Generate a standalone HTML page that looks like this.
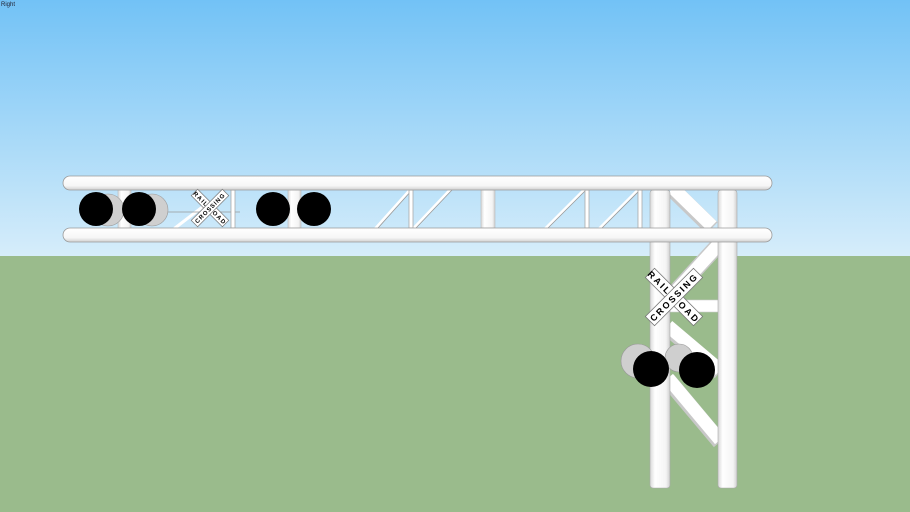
<!DOCTYPE html>
<html><head><meta charset="utf-8"><style>
html,body{margin:0;padding:0;width:910px;height:512px;overflow:hidden}
svg{display:block}
</style></head><body>
<svg width="910" height="512" viewBox="0 0 910 512" xmlns="http://www.w3.org/2000/svg">
<defs>
<linearGradient id="sky" x1="0" y1="0" x2="0" y2="1">
<stop offset="0" stop-color="#72c2f6"/><stop offset="1" stop-color="#d6edfa"/>
</linearGradient>
<linearGradient id="tube" x1="0" y1="0" x2="0" y2="1">
<stop offset="0" stop-color="#ffffff"/><stop offset="0.7" stop-color="#f6f6f6"/><stop offset="1" stop-color="#cfcfcf"/>
</linearGradient>
<linearGradient id="post" x1="0" y1="0" x2="1" y2="0">
<stop offset="0" stop-color="#d8d8d8"/><stop offset="0.25" stop-color="#ffffff"/><stop offset="0.8" stop-color="#f4f4f4"/><stop offset="1" stop-color="#cfcfcf"/>
</linearGradient>
</defs>
<rect width="910" height="256" fill="url(#sky)"/>
<rect y="256" width="910" height="256" fill="#9abb8c"/>
<text x="1" y="6" font-family="Liberation Sans,sans-serif" font-size="6" fill="#223">Right</text>

<g stroke="#fff" stroke-width="3" stroke-linecap="round">
<line x1="376" y1="228" x2="410" y2="190"/>
<line x1="414" y1="228" x2="450" y2="190"/>
<line x1="546" y1="228" x2="584" y2="190"/>
<line x1="600" y1="228" x2="638" y2="190"/>
<line x1="175" y1="228" x2="205" y2="205"/>
</g>
<g stroke="#999" stroke-width="0.8">
<line x1="378" y1="228" x2="412" y2="190"/>
<line x1="416" y1="228" x2="452" y2="190"/>
<line x1="548" y1="228" x2="586" y2="190"/>
<line x1="602" y1="228" x2="640" y2="190"/>
<line x1="150" y1="212" x2="240" y2="212"/>
</g>
<g fill="#fff" stroke="#aaa" stroke-width="0.8">
<rect x="409" y="190" width="4" height="38"/>
<rect x="585" y="190" width="4" height="38"/>
<rect x="638" y="190" width="4" height="38"/>
<rect x="231" y="190" width="4" height="38"/>
</g>
<g fill="url(#post)" stroke="#bbb" stroke-width="0.6">
<rect x="118" y="190" width="13" height="38"/>
<rect x="288" y="190" width="13" height="38"/>
<rect x="481" y="190" width="14" height="38"/>
</g>

<g stroke="#c8c8c8" stroke-width="16" stroke-linecap="butt">
<line x1="673" y1="190" x2="712" y2="228"/>
<line x1="720" y1="243" x2="666" y2="302"/>
<line x1="668" y1="328" x2="720" y2="372"/>
<line x1="668" y1="380" x2="720" y2="442"/>
</g>
<g stroke="#fff" stroke-width="13">
<line x1="673" y1="188" x2="712" y2="226"/>
<line x1="720" y1="243" x2="666" y2="302"/>
<line x1="668" y1="326" x2="720" y2="370"/>
<line x1="668" y1="378" x2="720" y2="440"/>
</g>
<rect x="668" y="300" width="52" height="12" fill="#fff" stroke="#ccc" stroke-width="0.6"/>
<g fill="url(#post)" stroke="#aaa" stroke-width="0.6">
<rect x="650" y="190" width="20" height="298" rx="3"/>
<rect x="718" y="190" width="19" height="298" rx="3"/>
</g>

<g fill="url(#tube)" stroke="#9a9a9a" stroke-width="0.8">
<rect x="63" y="176" width="709" height="14" rx="7"/>
<rect x="63" y="228" width="709" height="14" rx="7"/>
</g>

<g fill="#cfcfcf" stroke="#999" stroke-width="0.6">
<circle cx="108" cy="210" r="16"/>
<circle cx="152" cy="210" r="16"/>
</g>
<g fill="#000">
<circle cx="96" cy="209" r="17"/>
<circle cx="139" cy="209" r="17"/>
<circle cx="273" cy="209" r="17"/>
<circle cx="314" cy="209" r="17"/>
</g>

<g transform="translate(210,208)" font-family="Liberation Sans,sans-serif" font-weight="bold" font-size="6" fill="#000" text-anchor="middle">
<g transform="rotate(45)">
<rect x="-22" y="-4.5" width="44" height="9" fill="#fff" stroke="#777" stroke-width="0.7"/>
<text x="0" y="2.2" letter-spacing="1.2">RAIL ROAD</text>
</g>
<g transform="rotate(-45)">
<rect x="-22" y="-4.5" width="44" height="9" fill="#fff" stroke="#777" stroke-width="0.7"/>
<text x="0" y="2.2" letter-spacing="1">CROSSING</text>
</g>
</g>

<g fill="#cfcfcf" stroke="#999" stroke-width="0.6">
<circle cx="638" cy="361" r="17"/>
<circle cx="679" cy="358" r="14"/>
</g>
<g fill="#000">
<circle cx="651" cy="369" r="18"/>
<circle cx="697" cy="370" r="18"/>
</g>

<g transform="translate(674,297)" font-family="Liberation Sans,sans-serif" font-weight="bold" font-size="9" fill="#000" text-anchor="middle">
<g transform="rotate(45)">
<rect x="-34" y="-6.5" width="68" height="13" fill="#fff" stroke="#777" stroke-width="0.8"/>
<text x="0" y="3.3" letter-spacing="2.2">RAIL  ROAD</text>
</g>
<g transform="rotate(-45)">
<rect x="-34" y="-6.5" width="68" height="13" fill="#fff" stroke="#777" stroke-width="0.8"/>
<text x="0" y="3.3" letter-spacing="2">CROSSING</text>
</g>
</g>
</svg>
</body></html>
